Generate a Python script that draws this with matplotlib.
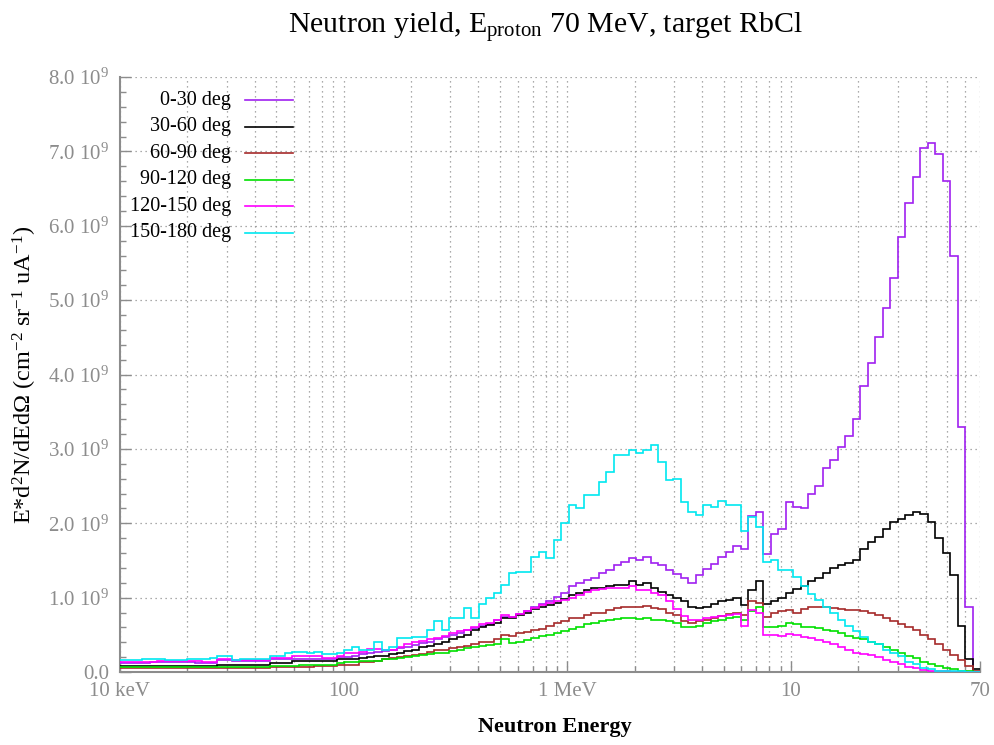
import numpy as np
import matplotlib
matplotlib.use('Agg')
import matplotlib.pyplot as plt
from matplotlib.ticker import FixedLocator, NullFormatter, LogLocator, MultipleLocator

plt.rcParams['font.family'] = ['Liberation Serif', 'DejaVu Serif']
plt.rcParams['mathtext.fontset'] = 'custom'
plt.rcParams['mathtext.rm'] = 'Liberation Serif'
plt.rcParams['mathtext.it'] = 'Liberation Serif:italic'
plt.rcParams['mathtext.bf'] = 'Liberation Serif:bold'

# histogram bin edges (MeV), log-spaced from 10 keV to 70 MeV
edges = np.geomspace(0.01, 70, 116)

# yields in units of 1e9
deg_0_30 = [
    0.12, 0.12, 0.12, 0.12, 0.14, 0.14, 0.14, 0.14, 0.14, 0.14,
    0.12, 0.12, 0.12, 0.16, 0.16, 0.15, 0.15, 0.15, 0.15, 0.15,
    0.17, 0.17, 0.17, 0.18, 0.18, 0.18, 0.18, 0.17, 0.17, 0.20,
    0.20, 0.21, 0.24, 0.26, 0.27, 0.28, 0.30, 0.32, 0.34, 0.36,
    0.39, 0.41, 0.44, 0.47, 0.50, 0.52, 0.56, 0.59, 0.62, 0.65,
    0.70, 0.74, 0.74, 0.78, 0.82, 0.87, 0.92, 0.96, 1.01, 1.06,
    1.15, 1.19, 1.24, 1.26, 1.33, 1.37, 1.44, 1.48, 1.53, 1.50,
    1.55, 1.47, 1.44, 1.37, 1.32, 1.27, 1.20, 1.30, 1.38, 1.45,
    1.55, 1.62, 1.70, 1.65, 2.10, 2.15, 1.58, 1.85, 1.92, 2.28,
    2.22, 2.20, 2.40, 2.50, 2.74, 2.85, 3.03, 3.17, 3.40, 3.85,
    4.15, 4.50, 4.90, 5.30, 5.85, 6.30, 6.65, 7.05, 7.11, 6.97,
    6.60, 5.60, 3.30, 0.88, 0.00]
deg_30_60 = [
    0.08, 0.08, 0.08, 0.08, 0.08, 0.08, 0.08, 0.08, 0.08, 0.08,
    0.08, 0.08, 0.08, 0.09, 0.09, 0.10, 0.10, 0.10, 0.10, 0.10,
    0.12, 0.12, 0.12, 0.15, 0.15, 0.15, 0.15, 0.15, 0.15, 0.17,
    0.17, 0.17, 0.19, 0.20, 0.21, 0.22, 0.24, 0.26, 0.28, 0.30,
    0.33, 0.35, 0.38, 0.40, 0.44, 0.47, 0.50, 0.56, 0.60, 0.63,
    0.66, 0.72, 0.72, 0.76, 0.80, 0.85, 0.88, 0.90, 0.93, 0.98,
    1.03, 1.06, 1.10, 1.13, 1.13, 1.15, 1.17, 1.17, 1.22, 1.17,
    1.19, 1.13, 1.08, 1.04, 1.00, 0.95, 0.88, 0.86, 0.87, 0.91,
    0.95, 0.97, 1.00, 0.90, 1.10, 1.22, 0.92, 0.95, 1.00, 1.06,
    1.12, 1.16, 1.22, 1.27, 1.33, 1.40, 1.44, 1.47, 1.50, 1.66,
    1.75, 1.82, 1.92, 2.02, 2.06, 2.11, 2.15, 2.13, 2.02, 1.80,
    1.60, 1.30, 0.62, 0.18, 0.04]
deg_60_90 = [
    0.06, 0.06, 0.06, 0.06, 0.06, 0.06, 0.06, 0.06, 0.06, 0.06,
    0.06, 0.06, 0.06, 0.06, 0.06, 0.06, 0.06, 0.06, 0.06, 0.06,
    0.07, 0.07, 0.07, 0.07, 0.07, 0.07, 0.08, 0.08, 0.08, 0.09,
    0.09, 0.10, 0.13, 0.14, 0.15, 0.17, 0.19, 0.20, 0.22, 0.23,
    0.24, 0.27, 0.29, 0.30, 0.32, 0.34, 0.35, 0.38, 0.40, 0.41,
    0.44, 0.50, 0.48, 0.52, 0.54, 0.56, 0.58, 0.62, 0.66, 0.68,
    0.72, 0.73, 0.77, 0.79, 0.80, 0.84, 0.86, 0.87, 0.88, 0.87,
    0.89, 0.86, 0.85, 0.80, 0.76, 0.68, 0.66, 0.68, 0.70, 0.72,
    0.75, 0.78, 0.80, 0.76, 0.95, 0.93, 0.74, 0.80, 0.82, 0.84,
    0.80, 0.85, 0.87, 0.88, 0.88, 0.86, 0.85, 0.84, 0.83, 0.82,
    0.80, 0.77, 0.73, 0.69, 0.65, 0.60, 0.56, 0.50, 0.44, 0.37,
    0.30, 0.23, 0.16, 0.08, 0.02]
deg_90_120 = [
    0.07, 0.07, 0.07, 0.07, 0.07, 0.07, 0.07, 0.07, 0.07, 0.07,
    0.07, 0.07, 0.07, 0.07, 0.07, 0.07, 0.07, 0.07, 0.07, 0.07,
    0.08, 0.08, 0.08, 0.08, 0.09, 0.09, 0.09, 0.10, 0.10, 0.12,
    0.14, 0.14, 0.15, 0.15, 0.15, 0.17, 0.18, 0.19, 0.20, 0.21,
    0.23, 0.24, 0.25, 0.26, 0.28, 0.30, 0.32, 0.34, 0.35, 0.36,
    0.38, 0.45, 0.39, 0.41, 0.43, 0.46, 0.48, 0.50, 0.52, 0.55,
    0.58, 0.61, 0.64, 0.66, 0.68, 0.70, 0.71, 0.72, 0.73, 0.71,
    0.72, 0.70, 0.70, 0.68, 0.66, 0.61, 0.60, 0.62, 0.66, 0.68,
    0.70, 0.72, 0.74, 0.70, 0.82, 0.88, 0.61, 0.61, 0.62, 0.66,
    0.64, 0.61, 0.60, 0.59, 0.56, 0.55, 0.53, 0.48, 0.46, 0.44,
    0.40, 0.37, 0.33, 0.30, 0.26, 0.22, 0.19, 0.14, 0.11, 0.08,
    0.05, 0.04, 0.02, 0.01, 0.00]
deg_120_150 = [
    0.14, 0.14, 0.14, 0.14, 0.14, 0.15, 0.15, 0.15, 0.15, 0.15,
    0.15, 0.14, 0.14, 0.17, 0.17, 0.16, 0.16, 0.16, 0.16, 0.16,
    0.19, 0.19, 0.19, 0.21, 0.21, 0.21, 0.21, 0.19, 0.19, 0.22,
    0.25, 0.25, 0.27, 0.31, 0.31, 0.29, 0.30, 0.34, 0.37, 0.40,
    0.42, 0.44, 0.46, 0.48, 0.52, 0.55, 0.57, 0.60, 0.64, 0.66,
    0.70, 0.76, 0.74, 0.78, 0.82, 0.86, 0.90, 0.93, 0.95, 0.97,
    1.00, 1.03, 1.07, 1.10, 1.12, 1.13, 1.13, 1.13, 1.15, 1.10,
    1.10, 1.06, 1.03, 0.95, 0.85, 0.75, 0.70, 0.70, 0.72, 0.74,
    0.75, 0.77, 0.78, 0.62, 0.83, 0.80, 0.50, 0.50, 0.49, 0.51,
    0.50, 0.47, 0.46, 0.43, 0.41, 0.37, 0.33, 0.29, 0.26, 0.24,
    0.23, 0.20, 0.16, 0.13, 0.11, 0.07, 0.05, 0.03, 0.02, 0.01,
    0.01, 0.00, 0.00, 0.00, 0.00]
deg_150_180 = [
    0.16, 0.16, 0.16, 0.17, 0.17, 0.17, 0.16, 0.16, 0.16, 0.17,
    0.17, 0.18, 0.19, 0.21, 0.21, 0.16, 0.17, 0.17, 0.17, 0.17,
    0.22, 0.22, 0.26, 0.27, 0.27, 0.26, 0.27, 0.24, 0.24, 0.26,
    0.30, 0.33, 0.30, 0.30, 0.41, 0.30, 0.34, 0.46, 0.46, 0.47,
    0.47, 0.56, 0.68, 0.56, 0.72, 0.72, 0.86, 0.72, 0.92, 1.00,
    1.06, 1.17, 1.33, 1.35, 1.35, 1.55, 1.62, 1.53, 1.77, 2.00,
    2.24, 2.20, 2.38, 2.38, 2.56, 2.69, 2.92, 2.92, 2.98, 2.94,
    2.98, 3.05, 2.83, 2.58, 2.60, 2.29, 2.15, 2.11, 2.24, 2.22,
    2.30, 2.24, 2.24, 1.90, 2.09, 1.95, 1.48, 1.50, 1.37, 1.37,
    1.28, 1.15, 1.05, 0.97, 0.88, 0.79, 0.70, 0.62, 0.55, 0.47,
    0.41, 0.37, 0.30, 0.25, 0.21, 0.14, 0.11, 0.06, 0.04, 0.02,
    0.02, 0.01, 0.01, 0.00, 0.00]

series_labels = ['0-30 deg', '30-60 deg', '60-90 deg', '90-120 deg', '120-150 deg', '150-180 deg']
series_values = [deg_0_30, deg_30_60, deg_60_90, deg_90_120, deg_120_150, deg_150_180]
colors = ['#a020f0', '#000000', '#a52a2a', '#00e000', '#ff00ff', '#00e8f0']

x_tick_vals = [0.01, 0.1, 1, 10, 70]
x_tick_labels = ['10 keV', '100', '1 MeV', '10', '70']
y_tick_vals = [0, 1e9, 2e9, 3e9, 4e9, 5e9, 6e9, 7e9, 8e9]
y_tick_labels = ['0.0'] + [r'%d.0 10$^{9}$' % k for k in range(1, 9)]

fig = plt.figure(figsize=(9.94, 7.45), dpi=100)
ax = fig.add_axes([120/994, 73/745, 860/994, 595/745])

for k, (lab, vals, c) in enumerate(zip(series_labels, series_values, colors)):
    ax.stairs(np.array(vals) * 1e9, edges, baseline=None, color=c, lw=1.2, zorder=3 + k)

ax.set_xscale('log')
ax.set_xlim(0.01, 70)
ax.set_ylim(0, 8e9)

gray = '#8c8c8c'
ax.xaxis.set_major_locator(FixedLocator(x_tick_vals))
ax.xaxis.set_minor_locator(LogLocator(base=10, subs=np.arange(2, 10)))
ax.xaxis.set_minor_formatter(NullFormatter())
ax.set_xticklabels(x_tick_labels)
ax.yaxis.set_major_locator(FixedLocator(y_tick_vals))
ax.yaxis.set_minor_locator(MultipleLocator(0.2e9))
ax.set_yticklabels(y_tick_labels)

ax.tick_params(which='both', direction='in', colors=gray, labelsize=15, labelcolor=gray, width=1.0)
ax.tick_params(which='major', length=8)
ax.tick_params(which='minor', length=4)
ax.tick_params(axis='x', which='major', pad=7)
ax.tick_params(axis='y', which='major', pad=8)

ax.grid(which='both', axis='x', linestyle=(0, (1, 3)), color='#909090', lw=0.9)
ax.grid(which='major', axis='y', linestyle=(0, (1, 3)), color='#909090', lw=0.9)
ax.set_axisbelow(True)

for s in ['top', 'right']:
    ax.spines[s].set_visible(False)
for s in ['left', 'bottom']:
    ax.spines[s].set_color(gray)
    ax.spines[s].set_linewidth(1.5)

# legend (text right-aligned, sample line to the right)
for k, (lab, c) in enumerate(zip(series_labels, colors)):
    yk = 0.961 - k * 0.0445
    ax.text(0.129, yk, lab, transform=ax.transAxes, ha='right', va='center', fontsize=14.5, color='black')
    ax.plot([0.145, 0.201], [yk, yk], transform=ax.transAxes, color=c, lw=1.2, clip_on=False)

fig.text(545/994, 1 - 27/745, r'Neutron yield, E$_{\mathrm{proton}}$ 70 MeV, target RbCl',
         ha='center', va='center', fontsize=21.5)
fig.text(555/994, 1 - 727/745, 'Neutron Energy', ha='center', va='center', fontsize=16, fontweight='bold')
fig.text(25/994, 1 - 375/745, r'E*d$^{2}$N/dEdΩ (cm$^{-2}$ sr$^{-1}$ uA$^{-1}$)',
         ha='center', va='center', rotation=90, fontsize=17.5)

fig.savefig('out.png', dpi=100)
